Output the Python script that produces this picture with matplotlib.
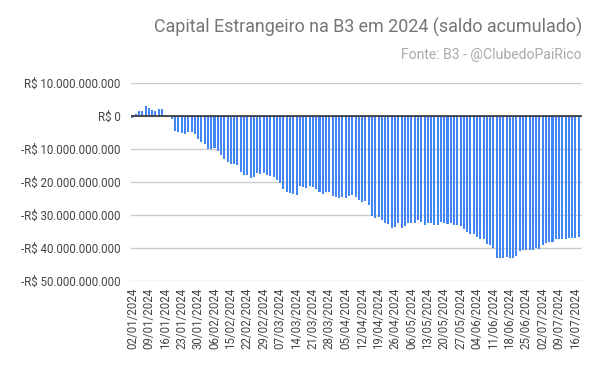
import numpy as np
import pandas as pd
import matplotlib
matplotlib.use("Agg")
import matplotlib.pyplot as plt
from matplotlib.ticker import FuncFormatter

plt.rcParams["font.family"] = ["Roboto", "DejaVu Sans"]

# B3 trading days, 02/01/2024 to 17/07/2024
holidays = ["2024-02-12", "2024-02-13", "2024-03-29", "2024-05-01", "2024-05-30"]
days = pd.bdate_range("2024-01-02", "2024-07-17", freq="C", holidays=holidays)
labels = [d.strftime("%d/%m/%Y") for d in days]

# saldo acumulado, in R$ billions
saldo = [
    -0.7, 0.6, 1.5, 1.5, 3.0, 2.4, 1.8, 1.5, 2.1, 2.1,
    0.4, 0.1, -1.0, -4.4, -5.0, -5.3, -5.6, -4.9, -4.8, -5.4,
    -6.9, -7.9, -8.4, -9.9, -10.1, -9.8, -10.7, -11.9, -13.0, -14.0,
    -14.6, -14.6, -15.0, -16.9, -18.0, -18.0, -18.9, -18.6, -17.4, -17.6,
    -17.4, -17.9, -18.3, -18.6, -19.4, -20.2, -22.0, -22.9, -23.2, -23.5,
    -23.9, -21.1, -21.4, -21.7, -21.1, -21.6, -22.0, -22.9, -23.5, -22.9,
    -22.9, -24.2, -24.4, -25.0, -24.5, -25.0, -24.1, -23.8, -24.6, -25.6,
    -26.2, -25.9, -27.1, -30.4, -31.0, -30.7, -31.6, -32.5, -32.8, -34.0,
    -33.7, -32.5, -34.0, -33.4, -32.5, -32.5, -32.5, -31.6, -32.2, -33.1,
    -32.5, -32.5, -33.1, -33.1, -32.2, -32.5, -32.8, -32.3, -32.9, -33.0,
    -33.3, -34.2, -35.1, -35.7, -35.7, -36.6, -37.2, -37.2, -38.7, -39.0,
    -39.9, -43.0, -43.0, -43.0, -42.7, -43.0, -43.0, -42.4, -40.9, -40.7,
    -40.7, -40.7, -40.7, -40.1, -40.4, -39.2, -38.6, -38.3, -38.3, -37.3,
    -37.3, -37.3, -37.3, -37.0, -37.0, -37.0, -36.7,
]
values = np.array(saldo) * 1e9
y_ticks = np.arange(-50, 11, 10) * 1e9


def brl(v, pos=None):
    s = f"{abs(v):,.0f}".replace(",", ".")
    return ("-R$ " if v < 0 else "R$ ") + s


fig = plt.figure(figsize=(6, 3.71), dpi=100)
ax = fig.add_axes([0.2175, 0.2426, 0.752, 0.5337])

x = np.arange(len(values))
ax.bar(x, values, width=0.62, color="#4285F4", zorder=3)

ax.set_ylim(-50e9, 10e9)
ax.set_xlim(-0.6, len(values) - 0.1)
ax.set_yticks(y_ticks)
ax.yaxis.set_major_formatter(FuncFormatter(brl))
ax.grid(axis="y", color="#cccccc", linewidth=1, zorder=0)
ax.axhline(0, color="#333333", linewidth=1.2, zorder=4)

ax.set_xticks(x[::5])
ax.set_xticklabels(labels[::5], rotation=90)

for s in ax.spines.values():
    s.set_visible(False)
ax.tick_params(axis="both", length=0, colors="#444444", labelsize=8.3)
ax.tick_params(axis="y", pad=7)
ax.tick_params(axis="x", pad=5)

fig.text(0.971, 0.925, "Capital Estrangeiro na B3 em 2024 (saldo acumulado)",
         ha="right", va="center", fontsize=12.9, color="#757575")
fig.text(0.969, 0.852, "Fonte: B3 - @ClubedoPaiRico",
         ha="right", va="center", fontsize=10.1, color="#aaaaaa")

fig.savefig("out.png", dpi=100)
